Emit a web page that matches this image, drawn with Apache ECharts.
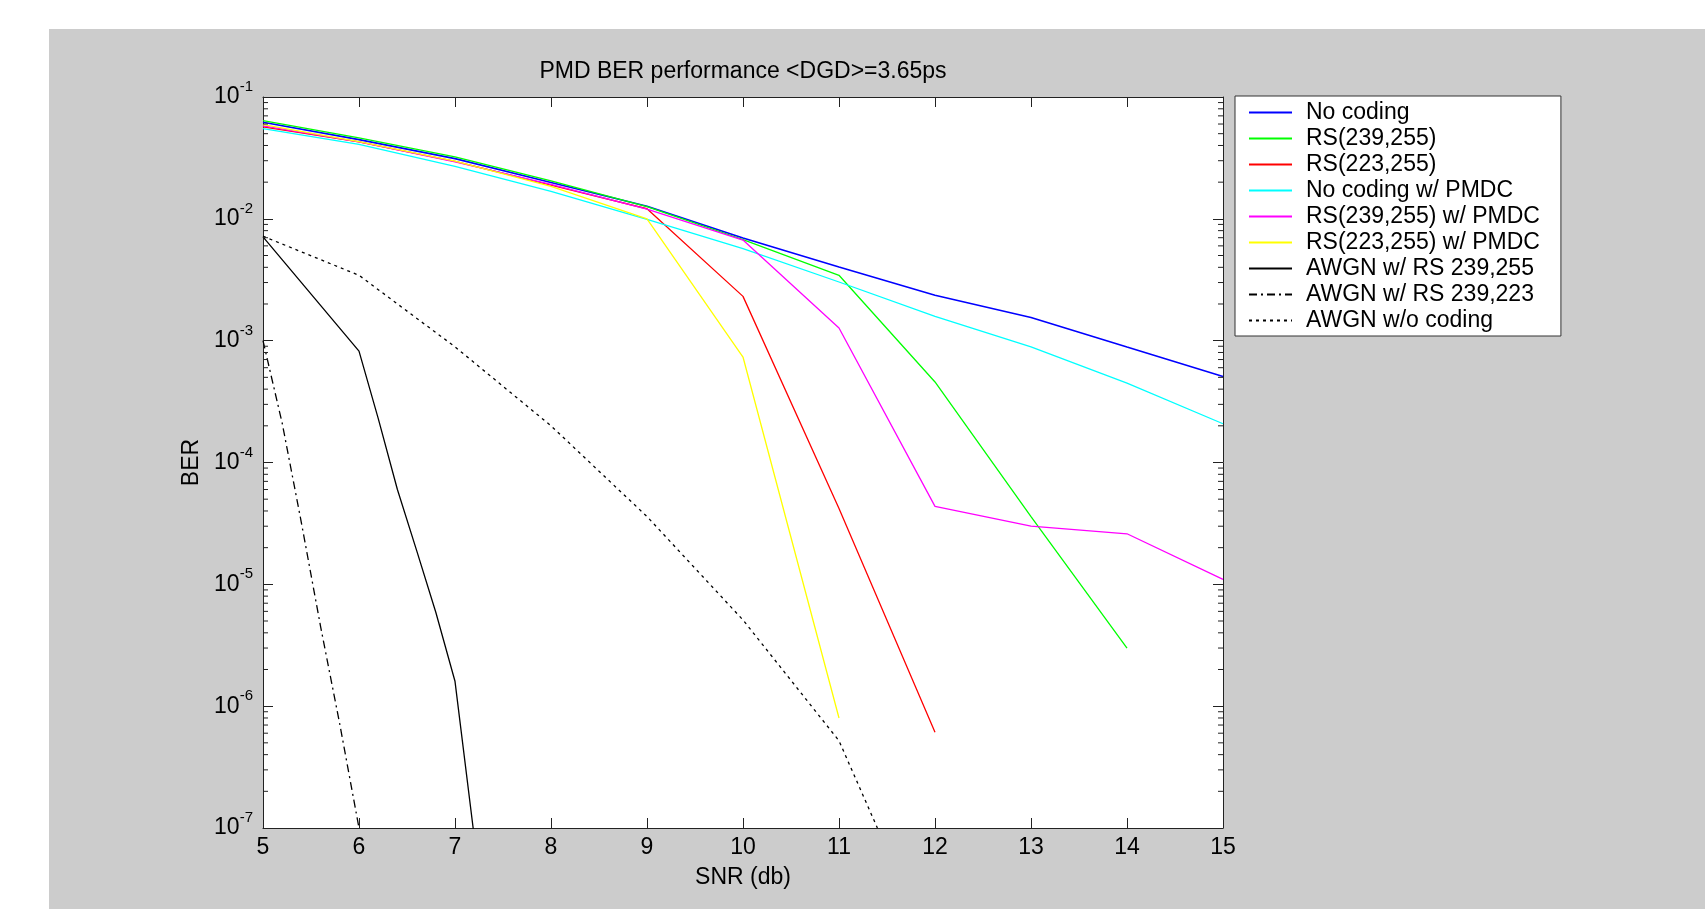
<!DOCTYPE html>
<html><head><meta charset="utf-8">
<script src="https://cdn.jsdelivr.net/npm/echarts@6/dist/echarts.min.js"></script>
<style>
html,body{margin:0;padding:0;background:#fff;width:1705px;height:909px;overflow:hidden}
#bg{position:absolute;left:49px;top:29px;width:1656px;height:880px;background:#cccccc}
#chart{position:absolute;left:0;top:0;width:1705px;height:909px}
</style></head><body>
<div id="bg"></div><div id="chart"></div>
<script>
// ---- data ----
const snrNoCoding = [5,6,7,8,9,10,11,12,13,14,15];
const berNoCoding = [0.062,0.0447,0.0312,0.0199,0.0127,0.00697,0.00403,0.00236,0.00155,0.000887,0.000509];

const snrRS239 = [5,6,7,8,9,10,11,12,13,14];
const berRS239 = [0.064,0.0461,0.0322,0.0205,0.0126,0.00675,0.00344,0.000458,3.6e-5,3.0e-6];

const snrRS223 = [5,6,7,8,9,10,11,12];
const berRS223 = [0.0568,0.0428,0.0296,0.0189,0.0121,0.00231,4.2e-5,6.1e-7];

const snrNoCodingPMDC = [5,6,7,8,9,10,11,12,13,14,15];
const berNoCodingPMDC = [0.055,0.0409,0.027,0.0168,0.0099,0.0057,0.00303,0.00158,0.00089,0.000449,0.000208];

const snrRS239PMDC = [5,6,7,8,9,10,11,12,13,14,15];
const berRS239PMDC = [0.058,0.0428,0.0293,0.0192,0.012,0.0067,0.00127,4.36e-5,3.0e-5,2.6e-5,1.1e-5];

const snrRS223PMDC = [5,6,7,8,9,10,11];
const berRS223PMDC = [0.0594,0.043,0.0298,0.0185,0.01,0.000734,8.0e-7];

const snrAwgnRS239_255 = [5,6,6.2,6.4,6.6,6.8,7.0,7.2];
const berAwgnRS239_255 = [0.0071,0.00082,2.3e-4,6.0e-5,1.9e-5,5.9e-6,1.6e-6,8.5e-8];

const snrAwgnRS239_223 = [5,5.2,5.4,5.6,5.8,6.0];
const berAwgnRS239_223 = [1.0e-3,2.1e-4,3.2e-5,4.5e-6,7.1e-7,1.0e-7];

const snrAwgnUncoded = [5,6,7,8,9,10,11,11.4];
const berAwgnUncoded = [0.0072,0.00344,8.9e-4,2.0e-4,3.6e-5,5.1e-6,5.2e-7,1.0e-7];

const seriesNames = ['No coding','RS(239,255)','RS(223,255)','No coding w/ PMDC','RS(239,255) w/ PMDC','RS(223,255) w/ PMDC','AWGN w/ RS 239,255','AWGN w/ RS 239,223','AWGN w/o coding'];
const seriesColors = ['#0000ff','#00ff00','#ff0000','#00ffff','#ff00ff','#ffff00','#000000','#000000','#000000'];

const xTickMin = 5, xTickMax = 15, xTickStep = 1;
const yMin = 1e-7, yMax = 1e-1;
const minorMultipliers = [2,3,4,5,6,7,8,9];
const minorDecades = [-7,-6,-5,-4,-3,-2];

// ---- build ----
const FONT = '"Liberation Sans", Arial, Helvetica, sans-serif';
function pairs(xs, ys){ return xs.map((x,i)=>[x, ys[i]]); }
const seriesData = [
  pairs(snrNoCoding, berNoCoding),
  pairs(snrRS239, berRS239),
  pairs(snrRS223, berRS223),
  pairs(snrNoCodingPMDC, berNoCodingPMDC),
  pairs(snrRS239PMDC, berRS239PMDC),
  pairs(snrRS223PMDC, berRS223PMDC),
  pairs(snrAwgnRS239_255, berAwgnRS239_255),
  pairs(snrAwgnRS239_223, berAwgnRS239_223),
  pairs(snrAwgnUncoded, berAwgnUncoded)
];
const lineTypes = ['solid','solid','solid','solid','solid','solid','solid',[8,4,2,4],[3,4]];
const lineWidths = [1.6,1.3,1.3,1.3,1.3,1.3,1.3,1.3,1.3];

const minorData = [];
minorDecades.forEach(d => minorMultipliers.forEach(m => minorData.push([xTickMin, m*Math.pow(10,d)])));

const axisLineStyle = {color:'#222', width:1};
const series = seriesData.map((d,i)=>({
  type:'line', name:seriesNames[i], data:d, symbol:'none', showSymbol:false,
  clip:true, z: 3,
  lineStyle:{color:seriesColors[i], width:lineWidths[i], type:lineTypes[i]},
  itemStyle:{color:seriesColors[i]}
}));
series.push({
  type:'custom', name:'minorTicks', data:minorData, silent:true, z:4,
  xAxisIndex:0, yAxisIndex:0, encode:{x:0,y:1},
  renderItem:function(params, api){
    const p = api.coord([api.value(0), api.value(1)]);
    const cs = params.coordSys;
    return {type:'group', children:[
      {type:'line', shape:{x1:cs.x, y1:p[1], x2:cs.x+5, y2:p[1]}, style:{stroke:'#222', lineWidth:1}},
      {type:'line', shape:{x1:cs.x+cs.width, y1:p[1], x2:cs.x+cs.width-5, y2:p[1]}, style:{stroke:'#222', lineWidth:1}}
    ]};
  }
});

const chart = echarts.init(document.getElementById('chart'), null, {renderer:'canvas'});
chart.setOption({
  animation:false,
  backgroundColor:'transparent',
  textStyle:{fontFamily:FONT},
  title:{text:'PMD BER performance <DGD>=3.65ps', left:743, top:60, padding:0, textAlign:'center',
    textStyle:{fontFamily:FONT, fontSize:23, fontWeight:'normal', color:'#000'}},
  grid:{left:263, top:97, width:960, height:731, show:true, backgroundColor:'#ffffff', borderWidth:0, containLabel:false},
  legend:{
    show:true, orient:'vertical', left:1235, top:96,
    data:seriesNames,
    padding:[5,21,4,13], itemGap:3.0, itemWidth:43, itemHeight:14,
    itemStyle:{opacity:0, borderWidth:0},
    backgroundColor:'#ffffff', borderColor:'#333', borderWidth:1, borderRadius:0,
    textStyle:{fontFamily:FONT, fontSize:23, color:'#000', lineHeight:21, padding:[0,0,0,9]},
    selectedMode:false
  },
  xAxis:[{
    type:'value', min:xTickMin, max:xTickMax, interval:xTickStep, position:'bottom',
    name:'SNR (db)', nameLocation:'middle', nameGap:38,
    nameTextStyle:{fontFamily:FONT, fontSize:23, color:'#000'},
    axisLine:{show:true, lineStyle:axisLineStyle},
    axisTick:{show:true, inside:true, length:10, lineStyle:axisLineStyle},
    axisLabel:{show:true, margin:8, fontFamily:FONT, fontSize:23, color:'#000'},
    splitLine:{show:false}
  },{
    type:'value', min:xTickMin, max:xTickMax, interval:xTickStep, position:'top',
    axisLine:{show:true, lineStyle:axisLineStyle},
    axisTick:{show:true, inside:true, length:10, lineStyle:axisLineStyle},
    axisLabel:{show:false}, splitLine:{show:false}
  }],
  yAxis:[{
    type:'log', logBase:10, min:yMin, max:yMax, splitNumber:6, position:'left',
    name:'BER', nameLocation:'middle', nameGap:60,
    nameTextStyle:{fontFamily:FONT, fontSize:23, color:'#000'},
    axisLine:{show:true, lineStyle:axisLineStyle},
    axisTick:{show:true, inside:true, length:10, lineStyle:axisLineStyle},
    axisLabel:{show:true, margin:10, color:'#000',
      formatter:function(v){ const e = Math.round(Math.log10(v)); return '{b|10}{e|' + e + '}'; },
      rich:{ b:{fontFamily:FONT, fontSize:23, color:'#000', lineHeight:23},
             e:{fontFamily:FONT, fontSize:15, color:'#000', padding:[0,0,20,0]} }
    },
    splitLine:{show:false}
  },{
    type:'log', logBase:10, min:yMin, max:yMax, splitNumber:6, position:'right',
    axisLine:{show:true, lineStyle:axisLineStyle},
    axisTick:{show:true, inside:true, length:10, lineStyle:axisLineStyle},
    axisLabel:{show:false}, splitLine:{show:false}
  }],
  series:series
});
</script></body></html>
